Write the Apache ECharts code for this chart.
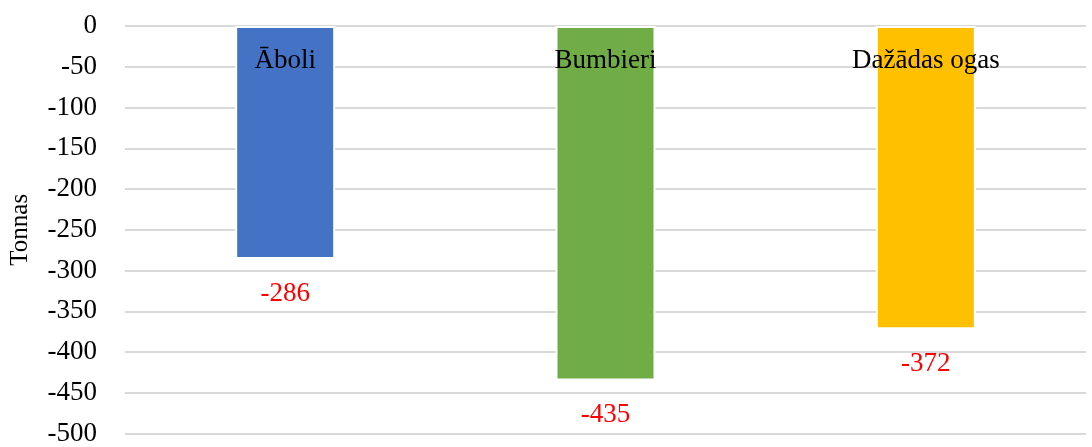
<!DOCTYPE html>
<html>
<head>
<meta charset="utf-8">
<script src="https://cdn.jsdelivr.net/npm/echarts@6/dist/echarts.min.js"></script>
<style>
  html, body { margin: 0; padding: 0; background: #fff; }
  #chart { width: 1092px; height: 447px; }
</style>
</head>
<body>
<div id="chart"></div>
<script>
const categories = ['Āboli', 'Bumbieri', 'Dažādas ogas'];
const values = [-286, -435, -372];
const barColors = ['#4472C4', '#70AD47', '#FFC000'];
const yName = 'Tonnas';

const font = '"Liberation Serif", "Times New Roman", serif';

const chart = echarts.init(document.getElementById('chart'));

const option = {
  animation: false,
  textStyle: { fontFamily: font },
  grid: { left: 125, right: 6, top: 26, bottom: 10 },
  xAxis: {
    type: 'category',
    position: 'top',
    data: categories,
    axisLine: { show: false },
    axisTick: { show: false },
    axisLabel: { show: false }
  },
  yAxis: {
    type: 'value',
    min: -500,
    max: 0,
    interval: 50,
    name: yName,
    nameLocation: 'middle',
    nameGap: 92,
    nameTextStyle: { fontFamily: font, fontSize: 25, color: '#000' },
    axisLine: { show: false },
    axisTick: { show: false },
    axisLabel: { margin: 28, fontFamily: font, fontSize: 27, color: '#000' },
    splitLine: { lineStyle: { color: '#D9D9D9', width: 2 } }
  },
  series: [{
    type: 'bar',
    barWidth: 100,
    data: values.map((v, i) => ({ value: v, itemStyle: { color: barColors[i] } })),
    itemStyle: { borderColor: '#fff', borderWidth: 2 },
    label: {
      show: true,
      position: 'bottom',
      distance: 21,
      fontFamily: font,
      fontSize: 27,
      color: '#FF0000'
    }
  }, {
    // category names drawn inside the top of each bar
    type: 'bar',
    barWidth: 100,
    barGap: '-100%',
    silent: true,
    data: values,
    itemStyle: { color: 'rgba(0,0,0,0)' },
    label: {
      show: true,
      position: 'insideTop',
      distance: 21,
      formatter: '{b}',
      fontFamily: font,
      fontSize: 27,
      color: '#000'
    }
  }]
};

chart.setOption(option);
</script>
</body>
</html>
